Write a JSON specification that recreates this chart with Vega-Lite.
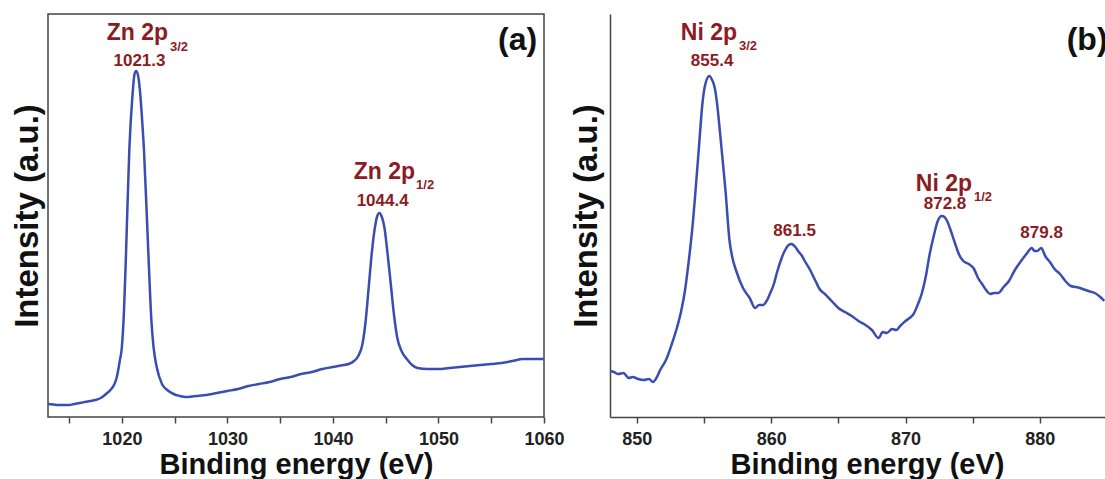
{
  "$schema": "https://vega.github.io/schema/vega-lite/v6.json",
  "background": "white",
  "padding": {"left": 10, "top": 13, "right": 0, "bottom": 0},
  "spacing": 66,
  "bounds": "flush",
  "config": {
    "font": "Liberation Sans",
    "view": {"stroke": "#444", "strokeWidth": 1.5},
    "axis": {
      "labelFont": "Liberation Sans", "labelFontWeight": "bold", "labelFontSize": 18, "labelColor": "#222",
      "titleFont": "Liberation Sans", "titleFontWeight": "bold", "titleFontSize": 29, "titleColor": "#111",
      "grid": false, "domainColor": "#444", "tickColor": "#444", "domainWidth": 1.5, "tickWidth": 1.5, "tickSize": 6
    },
    "text": {"font": "Liberation Sans", "fontWeight": "bold"}
  },
  "datasets": {
    "zn": [
      {"e":1013,"i":13},{"e":1013.5,"i":12.5},{"e":1014,"i":12},{"e":1014.5,"i":12},{"e":1015,"i":12},{"e":1015.5,"i":13},{"e":1016,"i":14},{"e":1016.5,"i":15},{"e":1017,"i":16},{"e":1017.5,"i":17},{"e":1018,"i":19},{"e":1018.5,"i":23},{"e":1019,"i":28},{"e":1019.3,"i":33},{"e":1019.5,"i":39},{"e":1019.8,"i":56},{"e":1020,"i":70},{"e":1020.2,"i":106},{"e":1020.4,"i":166},{"e":1020.7,"i":266},{"e":1021,"i":321},{"e":1021.2,"i":343},{"e":1021.35,"i":346},{"e":1021.5,"i":343},{"e":1021.7,"i":328},{"e":1021.9,"i":300},{"e":1022.1,"i":266},{"e":1022.5,"i":166},{"e":1022.8,"i":96},{"e":1023,"i":70},{"e":1023.3,"i":50},{"e":1023.8,"i":33},{"e":1024.3,"i":27},{"e":1024.9,"i":23},{"e":1025.5,"i":21},{"e":1026,"i":20},{"e":1027,"i":21},{"e":1028,"i":22},{"e":1029,"i":24},{"e":1030,"i":26},{"e":1031,"i":28},{"e":1032,"i":31},{"e":1033,"i":33},{"e":1034,"i":35},{"e":1035,"i":38},{"e":1036,"i":40},{"e":1037,"i":43},{"e":1038,"i":45},{"e":1039,"i":48},{"e":1040,"i":50},{"e":1041,"i":52},{"e":1041.5,"i":53},{"e":1042,"i":56},{"e":1042.4,"i":61},{"e":1042.8,"i":73},{"e":1043.1,"i":96},{"e":1043.4,"i":131},{"e":1043.7,"i":166},{"e":1044,"i":191},{"e":1044.2,"i":201},{"e":1044.4,"i":204},{"e":1044.6,"i":201},{"e":1044.9,"i":188},{"e":1045.2,"i":161},{"e":1045.5,"i":131},{"e":1045.8,"i":101},{"e":1046.1,"i":79},{"e":1046.5,"i":66},{"e":1047,"i":58},{"e":1047.5,"i":52},{"e":1048,"i":49},{"e":1049,"i":48},{"e":1050,"i":48},{"e":1051,"i":49},{"e":1052,"i":50},{"e":1053,"i":51},{"e":1054,"i":52},{"e":1055,"i":53},{"e":1056,"i":54},{"e":1057,"i":56},{"e":1058,"i":58},{"e":1059,"i":58},{"e":1060,"i":58}
    ],
    "ni": [
      {"e":848.0,"i":46},{"e":848.3,"i":45},{"e":848.6,"i":43},{"e":849.0,"i":44},{"e":849.4,"i":39},{"e":849.7,"i":40},{"e":850.1,"i":38},{"e":850.5,"i":37},{"e":850.9,"i":38},{"e":851.2,"i":35},{"e":851.5,"i":40},{"e":851.7,"i":46},{"e":852.2,"i":58},{"e":852.6,"i":73},{"e":853.0,"i":90},{"e":853.3,"i":106},{"e":853.6,"i":128},{"e":853.8,"i":149},{"e":854.0,"i":172},{"e":854.2,"i":199},{"e":854.4,"i":232},{"e":854.6,"i":266},{"e":854.9,"i":316},{"e":855.1,"i":333},{"e":855.4,"i":341},{"e":855.6,"i":337},{"e":855.8,"i":329},{"e":856.0,"i":310},{"e":856.2,"i":283},{"e":856.4,"i":255},{"e":856.6,"i":226},{"e":856.9,"i":176},{"e":857.1,"i":160},{"e":857.4,"i":146},{"e":857.9,"i":129},{"e":858.4,"i":119},{"e":858.8,"i":109},{"e":859.1,"i":112},{"e":859.4,"i":112},{"e":859.7,"i":117},{"e":859.9,"i":123},{"e":860.2,"i":133},{"e":860.4,"i":143},{"e":860.7,"i":156},{"e":861.0,"i":166},{"e":861.3,"i":172},{"e":861.5,"i":173},{"e":861.8,"i":170},{"e":862.0,"i":166},{"e":862.3,"i":161},{"e":862.5,"i":156},{"e":862.9,"i":147},{"e":863.3,"i":136},{"e":863.6,"i":128},{"e":864.0,"i":123},{"e":864.5,"i":116},{"e":865.0,"i":109},{"e":865.5,"i":105},{"e":866.0,"i":101},{"e":866.5,"i":96},{"e":866.9,"i":93},{"e":867.5,"i":87},{"e":868.0,"i":79},{"e":868.3,"i":85},{"e":868.6,"i":84},{"e":869.0,"i":88},{"e":869.3,"i":87},{"e":869.6,"i":91},{"e":870.0,"i":96},{"e":870.3,"i":99},{"e":870.6,"i":103},{"e":870.9,"i":112},{"e":871.2,"i":123},{"e":871.5,"i":140},{"e":871.8,"i":163},{"e":872.1,"i":181},{"e":872.4,"i":196},{"e":872.7,"i":201},{"e":872.9,"i":200},{"e":873.1,"i":196},{"e":873.3,"i":189},{"e":873.6,"i":177},{"e":873.8,"i":169},{"e":874.0,"i":162},{"e":874.3,"i":156},{"e":874.7,"i":153},{"e":875.1,"i":148},{"e":875.4,"i":139},{"e":875.7,"i":133},{"e":876.0,"i":127},{"e":876.3,"i":123},{"e":876.6,"i":124},{"e":876.9,"i":124},{"e":877.3,"i":130},{"e":877.7,"i":136},{"e":878.1,"i":146},{"e":878.6,"i":156},{"e":879.0,"i":163},{"e":879.4,"i":169},{"e":879.6,"i":166},{"e":879.8,"i":166},{"e":880.1,"i":169},{"e":880.4,"i":161},{"e":880.8,"i":154},{"e":881.1,"i":148},{"e":881.5,"i":143},{"e":881.9,"i":136},{"e":882.3,"i":131},{"e":882.7,"i":130},{"e":883.2,"i":128},{"e":883.6,"i":126},{"e":884.1,"i":124},{"e":884.5,"i":120},{"e":884.8,"i":116}
    ],
    "zn_labels": [
      {"e":1024.37,"i":377,"text":"Zn 2p","kind":"main"},
      {"e":1024.56,"i":366,"text":"3/2","kind":"sub"},
      {"e":1021.67,"i":351,"text":"1021.3","kind":"num"},
      {"e":1047.79,"i":238,"text":"Zn 2p","kind":"main"},
      {"e":1047.88,"i":228,"text":"1/2","kind":"sub"},
      {"e":1044.71,"i":211,"text":"1044.4","kind":"num"},
      {"e":1059.35,"i":367,"text":"(a)","kind":"panel"}
    ],
    "ni_labels": [
      {"e":857.46,"i":377,"text":"Ni 2p","kind":"main"},
      {"e":857.6,"i":367,"text":"3/2","kind":"sub"},
      {"e":855.6,"i":351,"text":"855.4","kind":"num"},
      {"e":874.95,"i":226,"text":"Ni 2p","kind":"main"},
      {"e":875.1,"i":216,"text":"1/2","kind":"sub"},
      {"e":872.94,"i":208,"text":"872.8","kind":"num"},
      {"e":861.74,"i":181,"text":"861.5","kind":"num"},
      {"e":880.13,"i":179,"text":"879.8","kind":"num"},
      {"e":882.0,"i":367,"text":"(b)","kind":"panel"}
    ]
  },
  "hconcat": [
    {
      "width": 496,
      "height": 403,
      "layer": [
        {
          "data": {"name": "zn"},
          "mark": {"type": "line", "color": "#3a4db0", "strokeWidth": 2.5, "interpolate": "monotone"},
          "encoding": {
            "x": {"field": "e", "type": "quantitative", "scale": {"domain": [1013, 1060], "nice": false, "zero": false},
                  "axis": {"title": "Binding energy (eV)", "values": [1015,1020,1025,1030,1035,1040,1045,1050,1055,1060], "format": "d",
                           "labelExpr": "datum.value % 10 === 0 ? datum.label : ''", "labelPadding": 7, "titlePadding": 2, "domain": false, "labelFlush": false}},
            "y": {"field": "i", "type": "quantitative", "scale": {"domain": [0, 403], "nice": false, "zero": false},
                  "axis": {"title": "Intensity (a.u.)", "titleFontSize": 33, "labels": false, "ticks": false, "domain": false, "titlePadding": 4}}
          }
        },
        {
          "data": {"name": "zn_labels"},
          "transform": [{"filter": "datum.kind === 'main'"}],
          "mark": {"type": "text", "align": "right", "baseline": "alphabetic", "fontSize": 23, "color": "#8c1c24"},
          "encoding": {"x": {"field": "e", "type": "quantitative"}, "y": {"field": "i", "type": "quantitative"}, "text": {"field": "text"}}
        },
        {
          "data": {"name": "zn_labels"},
          "transform": [{"filter": "datum.kind === 'sub'"}],
          "mark": {"type": "text", "align": "left", "baseline": "alphabetic", "fontSize": 13, "color": "#8c1c24"},
          "encoding": {"x": {"field": "e", "type": "quantitative"}, "y": {"field": "i", "type": "quantitative"}, "text": {"field": "text"}}
        },
        {
          "data": {"name": "zn_labels"},
          "transform": [{"filter": "datum.kind === 'num'"}],
          "mark": {"type": "text", "align": "center", "baseline": "alphabetic", "fontSize": 17, "color": "#8c1c24"},
          "encoding": {"x": {"field": "e", "type": "quantitative"}, "y": {"field": "i", "type": "quantitative"}, "text": {"field": "text"}}
        },
        {
          "data": {"name": "zn_labels"},
          "transform": [{"filter": "datum.kind === 'panel'"}],
          "mark": {"type": "text", "align": "right", "baseline": "alphabetic", "fontSize": 32, "color": "#111"},
          "encoding": {"x": {"field": "e", "type": "quantitative"}, "y": {"field": "i", "type": "quantitative"}, "text": {"field": "text"}}
        }
      ]
    },
    {
      "width": 495,
      "height": 403,
      "view": {"stroke": null},
      "layer": [
        {
          "data": {"name": "ni"},
          "mark": {"type": "line", "color": "#3a4db0", "strokeWidth": 2.5, "interpolate": "monotone", "clip": true},
          "encoding": {
            "x": {"field": "e", "type": "quantitative", "scale": {"domain": [848, 884.85], "nice": false, "zero": false},
                  "axis": {"title": "Binding energy (eV)", "values": [850,855,860,865,870,875,880], "format": "d",
                           "labelExpr": "datum.value % 10 === 0 ? datum.label : ''", "labelPadding": 7, "titlePadding": 2, "titleX": 257, "labelFlush": false}},
            "y": {"field": "i", "type": "quantitative", "scale": {"domain": [0, 403], "nice": false, "zero": false},
                  "axis": {"title": "Intensity (a.u.)", "titleFontSize": 33, "labels": false, "ticks": false, "domain": true, "titlePadding": 7}}
          }
        },
        {
          "mark": {"type": "rule", "color": "#444", "strokeWidth": 1.5},
          "encoding": {"y": {"datum": 403, "type": "quantitative"}}
        },
        {
          "data": {"name": "ni_labels"},
          "transform": [{"filter": "datum.kind === 'main'"}],
          "mark": {"type": "text", "align": "right", "baseline": "alphabetic", "fontSize": 23, "color": "#8c1c24"},
          "encoding": {"x": {"field": "e", "type": "quantitative"}, "y": {"field": "i", "type": "quantitative"}, "text": {"field": "text"}}
        },
        {
          "data": {"name": "ni_labels"},
          "transform": [{"filter": "datum.kind === 'sub'"}],
          "mark": {"type": "text", "align": "left", "baseline": "alphabetic", "fontSize": 13, "color": "#8c1c24"},
          "encoding": {"x": {"field": "e", "type": "quantitative"}, "y": {"field": "i", "type": "quantitative"}, "text": {"field": "text"}}
        },
        {
          "data": {"name": "ni_labels"},
          "transform": [{"filter": "datum.kind === 'num'"}],
          "mark": {"type": "text", "align": "center", "baseline": "alphabetic", "fontSize": 17, "color": "#8c1c24"},
          "encoding": {"x": {"field": "e", "type": "quantitative"}, "y": {"field": "i", "type": "quantitative"}, "text": {"field": "text"}}
        },
        {
          "data": {"name": "ni_labels"},
          "transform": [{"filter": "datum.kind === 'panel'"}],
          "mark": {"type": "text", "align": "left", "baseline": "alphabetic", "fontSize": 32, "color": "#111", "clip": true},
          "encoding": {"x": {"field": "e", "type": "quantitative"}, "y": {"field": "i", "type": "quantitative"}, "text": {"field": "text"}}
        }
      ]
    }
  ]
}
